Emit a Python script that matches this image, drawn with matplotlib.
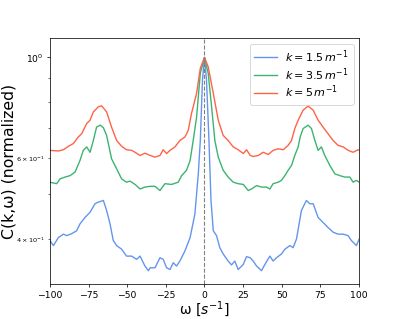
import numpy as np
import matplotlib
matplotlib.use("Agg")
import matplotlib.pyplot as plt

# values, per series (omega in 1/s, normalized C)
omega_blue = [-100, -97.7, -94.5, -91.3, -89.1, -85.9, -82.7, -80.5, -77.3, -74, -70.8, -68.7,
              -65.4, -63.3, -61.1, -59, -56.8, -53.6, -50.4, -47.1, -43.9, -41.7, -38.5, -36.3,
              -35.1, -32, -28.8, -26.7, -24.5, -22.3, -20.2, -18.1, -15.9, -12.6, -9.3, -6.2,
              -4, -2.7, -1.3, 0, 1.3, 2.9, 4.2, 5.7, 7.8, 9.9, 12.1, 15.3, 17.5, 19.6, 21.8,
              25.1, 27.2, 29.6, 31.5, 33.7, 36.9, 39.1, 42.3, 44.4, 46.6, 49.8, 52, 55.2, 57.3,
              59.5, 61.9, 62.7, 65.9, 68.1, 70.3, 73.5, 76.7, 79.9, 83.2, 86.4, 89.7, 92.9, 95,
              98.3, 100]
c_blue = [0.396, 0.386, 0.402, 0.409, 0.406, 0.410, 0.416, 0.431, 0.445, 0.457, 0.477, 0.481,
          0.485, 0.461, 0.431, 0.396, 0.386, 0.379, 0.366, 0.366, 0.360, 0.366, 0.348, 0.340,
          0.345, 0.345, 0.363, 0.360, 0.345, 0.342, 0.354, 0.348, 0.357, 0.376, 0.402, 0.453,
          0.555, 0.657, 0.892, 1.0, 0.892, 0.657, 0.485, 0.416, 0.406, 0.382, 0.370, 0.357,
          0.350, 0.357, 0.342, 0.351, 0.365, 0.363, 0.357, 0.348, 0.340, 0.351, 0.366, 0.357,
          0.363, 0.370, 0.379, 0.386, 0.382, 0.399, 0.445, 0.461, 0.485, 0.477, 0.477, 0.445,
          0.434, 0.423, 0.413, 0.409, 0.409, 0.406, 0.396, 0.386, 0.399]

omega_green = [-100, -95.6, -93.4, -90.2, -86.9, -83.7, -80.5, -78.4, -76.2, -74, -71.9, -69.8,
               -67.4, -65.4, -63.3, -60.1, -56.8, -53.6, -50.4, -48.2, -44.9, -41.7, -38.5,
               -35.1, -32, -28.8, -25.6, -21.3, -17, -14.8, -11.6, -9.3, -7.3, -5.1, -2.7, 0,
               2.4, 4.6, 6.7, 8.9, 12.1, 15.3, 18.6, 21.8, 25.1, 28.3, 30.4, 33.7, 36.9, 40.1,
               42.3, 44.4, 47.7, 49.8, 52, 54.1, 56.3, 58.4, 60.6, 61.9, 63.8, 67, 69.2, 71.4,
               73.5, 75.6, 77.8, 81.1, 84.3, 87.5, 90.7, 94, 96.1, 98.3, 100]
c_green = [0.532, 0.528, 0.541, 0.546, 0.550, 0.560, 0.594, 0.625, 0.636, 0.619, 0.657, 0.703,
           0.710, 0.701, 0.674, 0.599, 0.569, 0.541, 0.532, 0.535, 0.526, 0.514, 0.519,
           0.521, 0.521, 0.510, 0.528, 0.526, 0.532, 0.550, 0.565, 0.594, 0.657, 0.740, 0.923,
           1.0, 0.923, 0.779, 0.657, 0.604, 0.565, 0.546, 0.532, 0.528, 0.526, 0.510, 0.514,
           0.523, 0.519, 0.519, 0.514, 0.528, 0.532, 0.537, 0.550, 0.565, 0.579, 0.609, 0.636,
           0.669, 0.698, 0.710, 0.698, 0.657, 0.625, 0.636, 0.609, 0.579, 0.555, 0.550, 0.546,
           0.546, 0.532, 0.537, 0.532]

omega_red = [-100, -94.5, -91.3, -88, -84.8, -81.6, -79.4, -76.2, -74, -71.9, -68.7, -66.5,
             -63.3, -60.1, -56.8, -53.6, -50.4, -47.1, -43.9, -41.7, -38.5, -35.1, -32, -28.8,
             -26.7, -24.5, -22.3, -19.1, -15.9, -12.6, -10.5, -8.4, -5.1, -2.7, 0, 2.4, 5.7,
             8.9, 12.1, 15.3, 18.6, 21.8, 25.1, 27.2, 29.6, 31.5, 34.7, 38, 41.2, 44.4, 47.7,
             50.9, 54.1, 56.3, 58.4, 60.6, 63.8, 67, 70.3, 73.5, 76.7, 79.9, 83.2, 86.4, 89.7,
             92.9, 96.1, 99.4, 100]
c_red = [0.625, 0.623, 0.627, 0.638, 0.647, 0.669, 0.680, 0.716, 0.728, 0.759, 0.779, 0.783,
         0.759, 0.703, 0.657, 0.638, 0.627, 0.625, 0.616, 0.609, 0.616, 0.609, 0.604, 0.609,
         0.627, 0.615, 0.625, 0.636, 0.657, 0.669, 0.692, 0.753, 0.834, 0.947, 1.0, 0.954,
         0.834, 0.728, 0.674, 0.657, 0.636, 0.627, 0.615, 0.627, 0.609, 0.606, 0.609, 0.619,
         0.612, 0.625, 0.630, 0.627, 0.641, 0.657, 0.698, 0.728, 0.766, 0.782, 0.766, 0.728,
         0.703, 0.680, 0.657, 0.641, 0.636, 0.625, 0.619, 0.627, 0.625]

labels = [r'$k=1.5\,m^{-1}$', r'$k=3.5\,m^{-1}$', r'$k=5\,m^{-1}$']
colors = ['#6495ED', '#3CB371', '#FF6347']

fig, ax = plt.subplots(figsize=(6, 4.8), dpi=66.5)

ax.plot(omega_blue, c_blue, color=colors[0], lw=1.5, label=labels[0])
ax.plot(omega_green, c_green, color=colors[1], lw=1.5, label=labels[1])
ax.plot(omega_red, c_red, color=colors[2], lw=1.5, label=labels[2])
ax.axvline(0, color='gray', ls='--', lw=1.2)

ax.set_yscale('log')
ax.set_xlim(-100, 100)
ax.set_ylim(0.318, 1.103)
ax.tick_params(which='minor', labelsize=7)
ax.set_xlabel(r'ω [$s^{-1}$]', fontsize=15, labelpad=0)
ax.set_ylabel('C(k,ω) (normalized)', fontsize=17, labelpad=0)
ax.legend(loc='upper right', fontsize=12, labelspacing=0.1, handlelength=2,
          handletextpad=0.8)

fig.savefig('out.png', dpi=66.5)
